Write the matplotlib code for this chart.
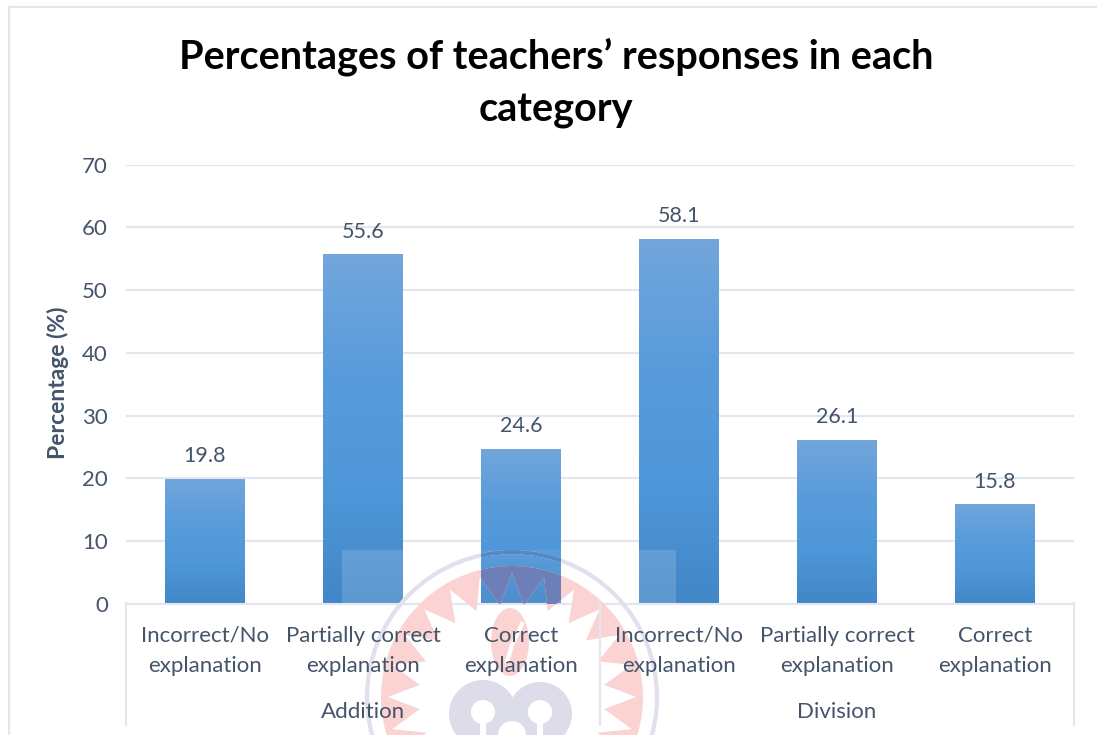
#!/usr/bin/env python3
import matplotlib
matplotlib.use('Agg')
import matplotlib.pyplot as plt
import numpy as np
from matplotlib.colors import LinearSegmentedColormap
from matplotlib.patches import Circle, Polygon, Rectangle, Ellipse, PathPatch
from matplotlib.path import Path

plt.rcParams['font.family'] = ['Lato', 'DejaVu Sans']

title = 'Percentages of teachers\u2019 responses in each\ncategory'
ylabel = 'Percentage (%)'
categories = ['Incorrect/No\nexplanation', 'Partially correct\nexplanation', 'Correct\nexplanation',
              'Incorrect/No\nexplanation', 'Partially correct\nexplanation', 'Correct\nexplanation']
values = [19.8, 55.6, 24.6, 58.1, 26.1, 15.8]
groups = ['Addition', 'Division']
group_sizes = [3, 3]
yticks = [0, 10, 20, 30, 40, 50, 60, 70]

W, H = 1097, 735
TXT = '#44546a'
GRID = '#e3e6ee'

fig = plt.figure(figsize=(W/100, H/100), dpi=100)
ax = fig.add_axes([126/W, 1-604/H, (1074-126)/W, (604-164.5)/H])
ax.set_yticks(yticks)
ax.tick_params(axis='y', length=0, labelsize=16, labelcolor=TXT, pad=13)
ax.set_xticks([])
for s in ['top', 'right', 'left']:
    ax.spines[s].set_visible(False)
ax.spines['bottom'].set_color(GRID)
ax.spines['bottom'].set_linewidth(1.5)
ax.grid(axis='y', color=GRID, lw=1.5)
ax.set_axisbelow(True)

# gradient fill on each bar
cmap = LinearSegmentedColormap.from_list('bar', ['#72a6dc', '#5a9cdb', '#4f97d9', '#4287c8'])
grad = np.linspace(0, 1, 256).reshape(-1, 1)
bar_w = 0.505
for i, v in enumerate(values):
    ax.imshow(grad, extent=[i-bar_w/2, i+bar_w/2, 0, v], aspect='auto', cmap=cmap, zorder=2)
    ax.text(i, v+2.1, '%.1f' % v, ha='center', va='bottom', fontsize=15.5, color=TXT)
ax.set_xlim(-0.5, len(values)-0.5)
ax.set_ylim(0, 70)

# overlay in pixel coords: frame, multi level axis, watermark
ov = fig.add_axes([0, 0, 1, 1], zorder=5)
ov.set_xlim(0, W)
ov.set_ylim(H, 0)
ov.axis('off')
ov.patch.set_alpha(0)

# seal: pink circle with a toothed white middle
cx, cy = 512, 697
t = np.linspace(0, 2*np.pi, 121)
teeth = np.linspace(-np.pi/2, 3*np.pi/2, 49)
rad = np.where(np.arange(49) % 2 == 0, 124, 93)
outer = np.c_[cx+131*np.cos(t), cy+131*np.sin(t)]
inner = np.c_[cx+rad*np.cos(teeth), cy+rad*np.sin(teeth)][::-1]
verts = np.r_[outer, inner]
codes = [Path.MOVETO]+[Path.LINETO]*(len(outer)-1)+[Path.MOVETO]+[Path.LINETO]*(len(inner)-1)
seal = Path(verts, codes)
ov.add_patch(PathPatch(seal, fc='#fbd3d3', ec='none', zorder=1))
ov.add_patch(Circle((cx, cy), 145, fill=False, ec='#e0e1ec', lw=3, zorder=1))

# part of the seal that shows through bar 3
clip = Rectangle((481, 540), 80, 63.5, transform=ov.transData)
for p in [PathPatch(seal, fc='#6676b2', ec='none', zorder=1.2),
          Circle((cx, cy), 145, fill=False, ec='#4a80c0', lw=3, zorder=1.2)]:
    ov.add_patch(p)
    p.set_clip_path(clip)

# flame and lobes in the middle of the seal
ov.add_patch(Ellipse((cx-2, 642), 38, 68, fc='#fbd3d3', ec='none', zorder=1))
ov.plot([522, 512, 507], [624, 645, 662], color='white', lw=3, zorder=1.1)
for dx, r in ((-29, 34), (28, 32)):
    ov.add_patch(Circle((cx+dx, 714), r, fc='#dcdde9', ec='none', zorder=1))
    ov.add_patch(Circle((cx+dx, 712), 12, fc='white', ec='none', zorder=1.1))
    ov.add_patch(Rectangle((cx+dx-3, 712), 6, 26, fc='white', ec='none', zorder=1.1))
ov.add_patch(Circle((cx, 735), 14, fc='white', ec='none', zorder=1.1))

ov.plot([9, 9], [H, 7], color=GRID, lw=1.5, zorder=2)
ov.plot([9, W], [7, 7], color=GRID, lw=1.5, zorder=2)

step = (1074-126)/len(values)
pos = 0
ov.plot([126, 126], [603, 725], color=GRID, lw=1.5, zorder=2)
for n, g in zip(group_sizes, groups):
    ov.text(126+step*(pos+n/2), 712, g, ha='center', va='center', fontsize=16, color=TXT, zorder=4)
    pos += n
    ov.plot([126+step*pos]*2, [603, 725], color=GRID, lw=1.5, zorder=2)
for i, c in enumerate(categories):
    ov.text(126+step*(i+0.5), 651, c, ha='center', va='center', fontsize=16, color=TXT, linespacing=1.65, zorder=4)

ov.text(58, 383, ylabel, rotation=90, ha='center', va='center', fontsize=16.5, fontweight='bold', color=TXT, zorder=4)
ov.text(556, 83, title, ha='center', va='center', fontsize=28.5, fontweight='bold', color='black', linespacing=1.5, zorder=4)

# lighter squares sitting over the bars
for x0, x1 in [(342, 403), (639, 676)]:
    ov.add_patch(Rectangle((x0, 550), x1-x0, 53.5, fc='white', ec='none', alpha=0.15, zorder=2))
ov.add_patch(Rectangle((481, 550), 80, 53.5, fc='white', ec='none', alpha=0.06, zorder=2))

fig.savefig('out.png', dpi=100)
